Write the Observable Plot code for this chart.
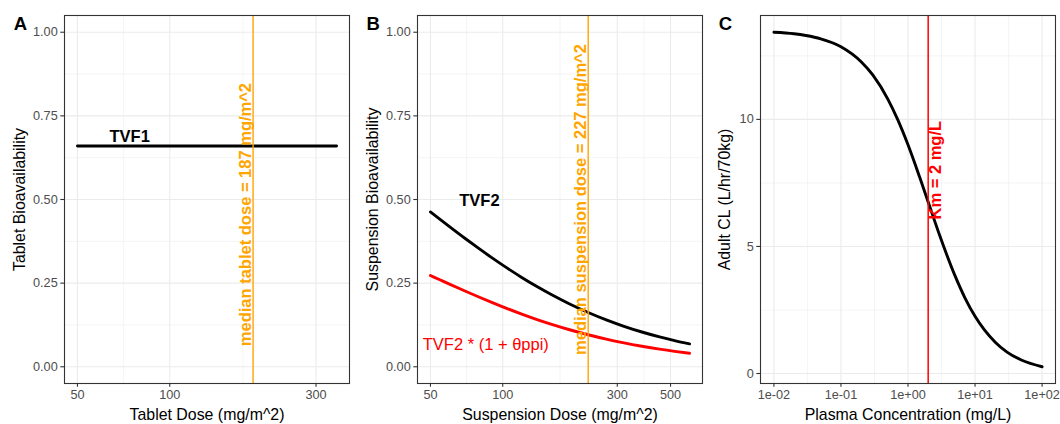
<!DOCTYPE html>
<html><head><meta charset="utf-8">
<script src="https://cdn.jsdelivr.net/npm/d3@7"></script>
<script src="https://cdn.jsdelivr.net/npm/@observablehq/plot@0.6"></script>
<style>
html,body{margin:0;padding:0;background:#fff;}
#fig{position:relative;width:1060px;height:424px;overflow:hidden;background:#fff;}
</style></head><body><div id="fig"></div>
<script>
// ---------- data ----------
// Panel A
const tabletDose = [50, 350];
const tvf1 = [0.66, 0.66];
const medianTabletDose = 187;
const tabletTicks = [50, 100, 300];

// Panel B
const suspensionDose = [50, 55, 60, 70, 80, 90, 100, 120, 140, 160, 190, 227, 270, 320, 380, 450, 520, 600];
const tvf2 = [0.4627, 0.4397, 0.4189, 0.3826, 0.3522, 0.3262, 0.3038, 0.2671, 0.2383, 0.2151, 0.1877, 0.1623, 0.1402, 0.1210, 0.1039, 0.0892, 0.0782, 0.0685];
const tvf2ppi = [0.2728, 0.2593, 0.2470, 0.2256, 0.2077, 0.1924, 0.1791, 0.1575, 0.1405, 0.1269, 0.1107, 0.0957, 0.0826, 0.0713, 0.0613, 0.0526, 0.0461, 0.0404];
const medianSuspensionDose = 227;
const suspensionTicks = [50, 100, 300, 500];

const bioTicks = [0, 0.25, 0.5, 0.75, 1];

// Panel C
const concentration = [0.01, 0.02, 0.03, 0.05, 0.1, 0.2, 0.3, 0.5, 0.7, 1, 1.5, 2, 3, 5, 7, 10, 20, 30, 50, 100];
const adultCL = [13.43, 13.37, 13.30, 13.17, 12.86, 12.27, 11.74, 10.80, 10.00, 9.00, 7.71, 6.75, 5.40, 3.86, 3.00, 2.25, 1.23, 0.84, 0.52, 0.265];
const km = 2;
const concTicks = [0.01, 0.1, 1, 10, 100];
const clTicks = [0, 5, 10];

// ---------- helpers ----------
const FONT = "'Liberation Sans', Arial, Helvetica, sans-serif";
const expandLog = (lo, hi) => { const a = Math.log10(lo), b = Math.log10(hi), d = (b - a) * 0.05; return [10 ** (a - d), 10 ** (b + d)]; };
const expandLin = (lo, hi) => { const d = (hi - lo) * 0.05; return [lo - d, hi + d]; };
const logMinor = (ticks) => { const m = []; for (let i = 0; i < ticks.length - 1; i++) m.push(Math.sqrt(ticks[i] * ticks[i + 1])); return m; };
const linMinor = (ticks) => { const m = []; for (let i = 0; i < ticks.length - 1; i++) m.push((ticks[i] + ticks[i + 1]) / 2); return m; };
const sciFmt = d => { const e = Math.round(Math.log10(d)); return `1e${e < 0 ? "-" : "+"}${String(Math.abs(e)).padStart(2, "0")}`; };

const TITLE_FS = 15.9;
const gridMajor = {stroke: "#ebebeb", strokeOpacity: 1, strokeWidth: 1.1};
const gridMinor = {stroke: "#ebebeb", strokeOpacity: 1, strokeWidth: 0.55};
const axisStyle = {tickSize: 3.7, stroke: "#333333", strokeWidth: 1.1, fill: "#4d4d4d", fontSize: 12.7, label: null};

function panel({left, width, ml, mr, xDomain, yDomain, xType, xTicks, xMinor, yTicks, yMinor, xFmt, yFmt,
                dataMarks, letter, letterDx, xLabel, yLabel, yLabelDx}) {
  const svg = Plot.plot({
    width, height: 424,
    marginLeft: ml, marginRight: mr, marginTop: 15, marginBottom: 41,
    style: {fontFamily: FONT, fontSize: "12.7px", background: "white", overflow: "visible"},
    x: {type: xType, domain: xDomain},
    y: {type: "linear", domain: yDomain},
    marks: [
      Plot.gridX(xMinor, {...gridMinor}),
      Plot.gridY(yMinor, {...gridMinor}),
      Plot.gridX(xTicks, {...gridMajor}),
      Plot.gridY(yTicks, {...gridMajor}),
      ...dataMarks,
      Plot.frame({stroke: "#333333", strokeWidth: 1.1}),
      Plot.axisX({...axisStyle, ticks: xTicks, tickPadding: 3.1, tickFormat: xFmt, anchor: "bottom"}),
      Plot.axisY({...axisStyle, ticks: yTicks, tickPadding: 3.1, tickFormat: yFmt, anchor: "left"}),
      Plot.text([xLabel], {text: d => d, frameAnchor: "bottom", textAnchor: "middle", lineAnchor: "bottom", dy: 36, fontSize: TITLE_FS, fill: "black"}),
      Plot.text([yLabel], {text: d => d, frameAnchor: "left", rotate: -90, textAnchor: "middle", lineAnchor: "bottom", dx: yLabelDx, fontSize: TITLE_FS, fill: "black"}),
      Plot.text([letter], {text: d => d, frameAnchor: "top-left", textAnchor: "start", lineAnchor: "bottom", dx: letterDx, dy: 14.3, fontSize: 18.5, fontWeight: "bold", fill: "black"})
    ]
  });
  svg.style.position = "absolute";
  svg.style.left = left + "px";
  svg.style.top = "0px";
  document.getElementById("fig").appendChild(svg);
}

const pts = (xs, ys) => xs.map((x, i) => ({x, y: ys[i]}));

// ---------- Panel A ----------
panel({
  left: 0, width: 355, ml: 64, mr: 6,
  xType: "log", xDomain: expandLog(50, 350), yDomain: expandLin(0, 1),
  xTicks: tabletTicks, xMinor: logMinor(tabletTicks),
  yTicks: bioTicks, yMinor: linMinor(bioTicks),
  xFmt: d => String(d), yFmt: d3.format(".2f"),
  letter: "A", letterDx: -50.7,
  xLabel: "Tablet Dose (mg/m^2)", yLabel: "Tablet Bioavailability", yLabelDx: -39.5,
  dataMarks: [
    Plot.line(pts(tabletDose, tvf1), {x: "x", y: "y", stroke: "black", strokeWidth: 2.9}),
    Plot.ruleX([medianTabletDose], {stroke: "orange", strokeWidth: 1.4}),
    Plot.text([{x: 74, y: 0.673, t: "TVF1"}], {x: "x", y: "y", text: "t", textAnchor: "middle", lineAnchor: "bottom", fontSize: 16.5, fontWeight: "bold", fill: "black"}),
    Plot.text([{x: medianTabletDose, y: 0.455, t: `median tablet dose = ${medianTabletDose} mg/m^2`}], {x: "x", y: "y", text: "t", rotate: -90, textAnchor: "middle", lineAnchor: "bottom", dx: -2.5, fontSize: 16.5, fontWeight: "bold", fill: "orange"})
  ]
});

// ---------- Panel B ----------
panel({
  left: 355, width: 355, ml: 62, mr: 8,
  xType: "log", xDomain: expandLog(50, 600), yDomain: expandLin(0, 1),
  xTicks: suspensionTicks, xMinor: logMinor(suspensionTicks),
  yTicks: bioTicks, yMinor: linMinor(bioTicks),
  xFmt: d => String(d), yFmt: d3.format(".2f"),
  letter: "B", letterDx: -51,
  xLabel: "Suspension Dose (mg/m^2)", yLabel: "Suspension Bioavailability", yLabelDx: -39.8,
  dataMarks: [
    Plot.line(pts(suspensionDose, tvf2), {x: "x", y: "y", stroke: "black", strokeWidth: 2.9, curve: "monotone-x"}),
    Plot.line(pts(suspensionDose, tvf2ppi), {x: "x", y: "y", stroke: "red", strokeWidth: 2.9, curve: "monotone-x"}),
    Plot.ruleX([medianSuspensionDose], {stroke: "orange", strokeWidth: 1.4}),
    Plot.text([{x: 80, y: 0.4815, t: "TVF2"}], {x: "x", y: "y", text: "t", textAnchor: "middle", lineAnchor: "bottom", fontSize: 16.5, fontWeight: "bold", fill: "black"}),
    Plot.text([{x: 85, y: 0.0507, t: "TVF2 * (1 + θppi)"}], {x: "x", y: "y", text: "t", textAnchor: "middle", lineAnchor: "bottom", fontSize: 16.5, fill: "red"}),
    Plot.text([{x: medianSuspensionDose, y: 0.5, t: `median suspension dose = ${medianSuspensionDose} mg/m^2`}], {x: "x", y: "y", text: "t", rotate: -90, textAnchor: "middle", lineAnchor: "bottom", dx: -2, fontSize: 16.5, fontWeight: "bold", fill: "orange"})
  ]
});

// ---------- Panel C ----------
const clExtent = d3.extent(adultCL);
panel({
  left: 710, width: 350, ml: 50, mr: 5,
  xType: "log", xDomain: expandLog(0.01, 100), yDomain: expandLin(clExtent[0], clExtent[1]),
  xTicks: concTicks, xMinor: logMinor(concTicks),
  yTicks: clTicks, yMinor: [...linMinor(clTicks), 12.5],
  xFmt: sciFmt, yFmt: d => String(d),
  letter: "C", letterDx: -41.7,
  xLabel: "Plasma Concentration (mg/L)", yLabel: "Adult CL (L/hr/70kg)", yLabelDx: -30.5,
  dataMarks: [
    Plot.line(pts(concentration, adultCL), {x: "x", y: "y", stroke: "black", strokeWidth: 2.9, curve: "monotone-x"}),
    Plot.ruleX([km], {stroke: "red", strokeWidth: 1.5}),
    Plot.text([{x: km, y: 8, t: `Km = ${km} mg/L`}], {x: "x", y: "y", text: "t", rotate: -90, textAnchor: "middle", lineAnchor: "top", dx: 1.5, fontSize: 16.5, fontWeight: "bold", fill: "red"})
  ]
});
</script>
</body></html>
